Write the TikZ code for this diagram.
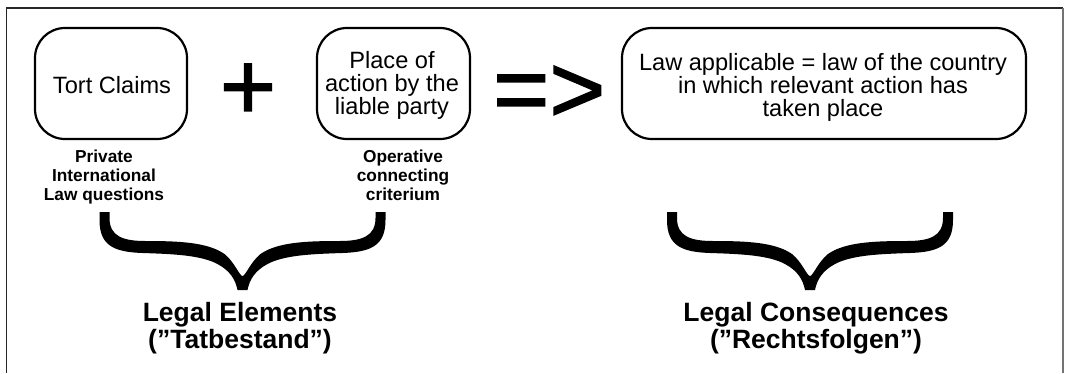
\documentclass[tikz,border=0pt]{standalone}
\usepackage{fontspec}
\setmainfont{Liberation Sans}
\newfontfamily\heavysym{Liberation Sans}[FakeBold=1.6]
\begin{document}
\begin{tikzpicture}[x=1pt,y=-1pt,
  roundbox/.style={draw, line width=2.2pt, rounded corners=30pt, inner sep=0pt},
  boxtext/.style={inner sep=0pt, align=center, font=\fontsize{23.6}{23.4}\selectfont},
  note/.style={inner sep=0pt, align=center, font=\bfseries\fontsize{17.3}{19}\selectfont},
  heading/.style={inner sep=0pt, align=center, font=\bfseries\fontsize{26.5}{26.5}\selectfont},
  bigsym/.style={inner sep=0pt, font=\heavysym\fontsize{96}{96}\selectfont},
  % thick calligraphic under-brace, origin at the top centre
  bigbrace/.pic={
    \fill (-143,0) -- (-143,8)
      .. controls (-143,34) and (-128,40) .. (-100,41)
      .. controls (-70,42) and (-42,43) .. (-25,52)
      .. controls (-12,59) and (-7,68) .. (-5,78)
      -- (5,78)
      .. controls (7,68) and (12,59) .. (25,52)
      .. controls (42,43) and (70,42) .. (100,41)
      .. controls (128,40) and (143,34) .. (143,8)
      -- (143,0) -- (133,0) -- (133,6)
      .. controls (133,24) and (120,29) .. (97,29)
      .. controls (65,29) and (35,30) .. (18,42)
      .. controls (8,50) and (3,64) .. (0,64)
      .. controls (-3,64) and (-8,50) .. (-18,42)
      .. controls (-35,30) and (-65,29) .. (-97,29)
      .. controls (-120,29) and (-133,24) .. (-133,6)
      -- (-133,0) -- cycle;
  }
]
\useasboundingbox (0,0) rectangle (1066,373);

% open frame
\draw[line width=1.6pt, black!85] (6.5,373) -- (6.5,8) -- (1063,8);
\draw[line width=1.6pt, black!55] (1063,8) -- (1063,373);

% rounded boxes and their texts
\node[roundbox, minimum width=152pt, minimum height=111pt] (tort) at (111,83.5) {};
\node[boxtext] (tortText) at (112,85.3) {Tort Claims};
\node[roundbox, minimum width=153pt, minimum height=111pt] (place) at (393.5,83.5) {};
\node[boxtext] (placeText) at (392,85.4) {Place of\\action by the\\liable party};
\node[roundbox, minimum width=404pt, minimum height=111pt] (law) at (824,83.5) {};
\node[boxtext] (lawText) at (823,87.3) {Law applicable = law of the country\\in which relevant action has\\taken place};

% operators
\node[bigsym, anchor=base] (plus) at (248,119.2) {+};
\node[bigsym, anchor=base] (implies) at (549.3,122) {=>};

% notes under the first two boxes
\node[note] (privNote) at (104,176.6) {Private\\International\\Law questions};
\node[note] (operNote) at (403,174.9) {Operative\\connecting\\criterium};

% braces
\pic (braceElements) at (242.5,212) {bigbrace};
\pic (braceConsequences) at (810,212) {bigbrace};

% headings
\node[heading] (elements) at (240,328) {Legal Elements\\(”Tatbestand”)};
\node[heading] (consequences) at (816,328) {Legal Consequences\\(”Rechtsfolgen”)};
\end{tikzpicture}
\end{document}
